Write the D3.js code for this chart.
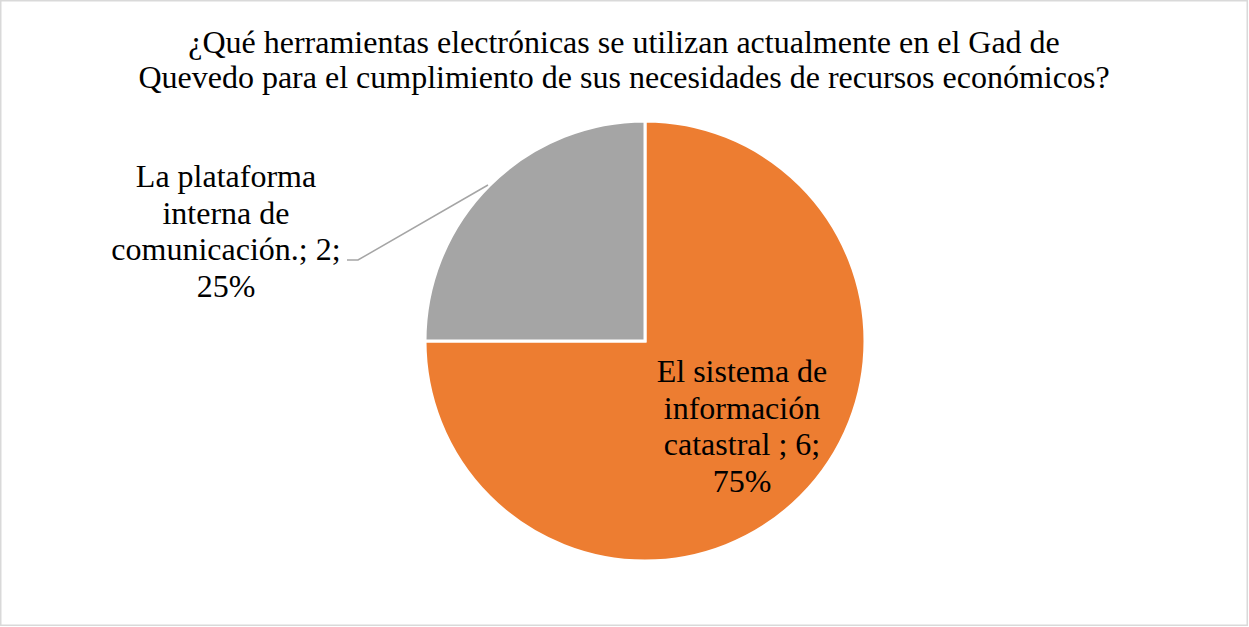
<!DOCTYPE html>
<html><head><meta charset="utf-8">
<script src="https://cdn.jsdelivr.net/npm/d3@7"></script>
<style>body{margin:0;background:#fff}svg{display:block}</style>
</head><body>
<script>
const titleLines = ["¿Qué herramientas electrónicas se utilizan actualmente en el Gad de", "Quevedo para el cumplimiento de sus necesidades de recursos económicos?"];
const categories = ["El sistema de información catastral ", "La plataforma interna de comunicación."];
const values = [6, 2];
const percents = ["75%", "25%"];
const colors = ["#ED7D31", "#A5A5A5"];
const labelLines = [["El sistema de", "información", "catastral ; 6;", "75%"], ["La plataforma", "interna de", "comunicación.; 2;", "25%"]];

const W = 1249, H = 627;
const svg = d3.select("body").append("svg").attr("width", W).attr("height", H);
svg.append("rect").attr("x", 0.75).attr("y", 0.75).attr("width", W - 2.5).attr("height", H - 2.5)
  .attr("fill", "#fff").attr("stroke", "#D9D9D9").attr("stroke-width", 1.5);

const font = "'Liberation Serif','Times New Roman',serif";
const fs = 32;
svg.append("g").selectAll("text").data(titleLines).join("text")
  .attr("x", 624).attr("y", (d, i) => 53 + i * 35)
  .attr("text-anchor", "middle").attr("font-family", font).attr("font-size", fs).attr("fill", "#000")
  .text(d => d);

const cx = 645, cy = 341, r = 220;
const pie = d3.pie().sort(null).value(d => d)(values);
const arc = d3.arc().innerRadius(0).outerRadius(r);
const g = svg.append("g").attr("transform", `translate(${cx},${cy})`);
g.selectAll("path").data(pie).join("path").attr("d", arc)
  .attr("fill", (d, i) => colors[i]).attr("stroke", "#fff").attr("stroke-width", 3);

// inside label for slice 0
const l0 = g.append("text").attr("font-family", font).attr("font-size", fs).attr("fill", "#000").attr("text-anchor", "middle");
labelLines[0].forEach((t, i) => l0.append("tspan").attr("x", 97).attr("y", 41 + i * 36.7).text(t));

// outside label for slice 1
const l1 = svg.append("text").attr("font-family", font).attr("font-size", fs).attr("fill", "#000").attr("text-anchor", "middle");
labelLines[1].forEach((t, i) => l1.append("tspan").attr("x", 226).attr("y", 187 + i * 36.7).text(t));

// leader line
svg.append("polyline").attr("points", `347,260 358,260 488,185`)
  .attr("fill", "none").attr("stroke", "#A5A5A5").attr("stroke-width", 1.5);
</script>
</body></html>
